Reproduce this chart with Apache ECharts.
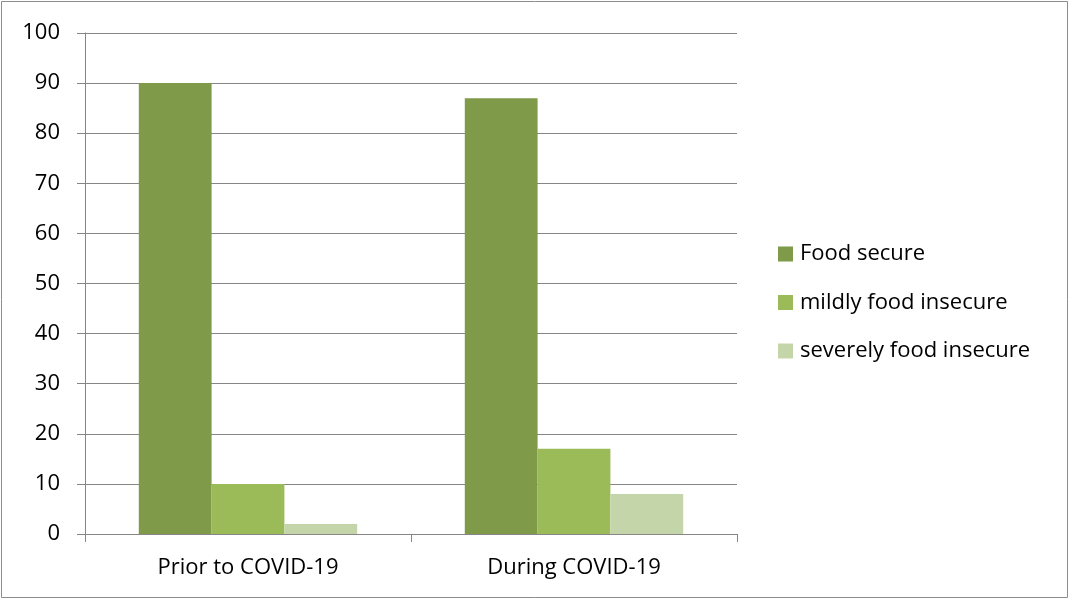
<!DOCTYPE html>
<html><head><meta charset="utf-8">
<script src="https://cdn.jsdelivr.net/npm/echarts@6/dist/echarts.min.js"></script>
<style>html,body{margin:0;padding:0;background:#fff}#c{width:1070px;height:600px}</style>
</head><body><div id="c"></div>
<script>
const categories = ['Prior to COVID-19', 'During COVID-19'];
const seriesNames = ['Food secure', 'mildly food insecure', 'severely food insecure'];
const foodSecure = [90, 87];
const mildlyInsecure = [10, 17];
const severelyInsecure = [2, 8];
const colors = ['#7f9a48', '#9bbb59', '#c4d6a9'];
const font = 'Open Sans, Liberation Sans, sans-serif';
const chart = echarts.init(document.getElementById('c'));
const dataSets = [foodSecure, mildlyInsecure, severelyInsecure];
chart.setOption({
  animation: false,
  graphic: [{type:'rect', shape:{x:1.5,y:1.5,width:1066,height:596}, style:{fill:'none', stroke:'#8c8c8c', lineWidth:1}, silent:true}],
  grid: {left:85, right:333, top:33, bottom:66, containLabel:false},
  legend: {
    orient:'vertical', left:773, top:238, itemWidth:15, itemHeight:15, itemGap:26.5,
    icon:'rect', textStyle:{fontFamily:font, fontSize:22, lineHeight:22, color:'#000', padding:[0,0,0,2]},
    data: seriesNames
  },
  xAxis: {
    type:'category', data:categories,
    axisLine:{lineStyle:{color:'#868686', width:1}},
    axisTick:{show:true, length:8, alignWithLabel:false, lineStyle:{color:'#868686'}},
    axisLabel:{fontFamily:font, fontSize:22, color:'#000', margin:23}
  },
  yAxis: {
    type:'value', min:0, max:100, interval:10,
    axisLine:{show:true, lineStyle:{color:'#868686', width:1}},
    axisTick:{show:true, length:8, lineStyle:{color:'#868686'}},
    splitLine:{lineStyle:{color:'#868686', width:1}},
    axisLabel:{fontFamily:font, fontSize:22, color:'#000', margin:25}
  },
  series: seriesNames.map((n,i)=>({
    name:n, type:'bar', data:dataSets[i], barGap:'0%', barCategoryGap:'33%',
    itemStyle:{color:colors[i]}
  }))
});
</script></body></html>
